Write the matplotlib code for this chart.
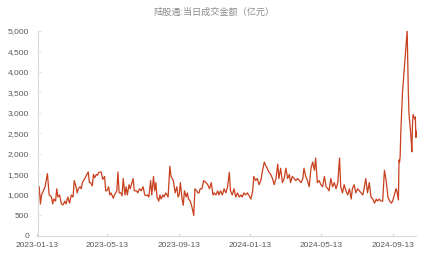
import pandas as pd
import matplotlib.pyplot as plt
import matplotlib.ticker as mticker

## Data (亿元)
dates = [
    '2023-01-13', '2023-01-16', '2023-01-18', '2023-01-20', '2023-01-26', '2023-01-30',
    '2023-02-02', '2023-02-06', '2023-02-08', '2023-02-10', '2023-02-13', '2023-02-15',
    '2023-02-17', '2023-02-20', '2023-02-23', '2023-02-26',
    '2023-03-01', '2023-03-03', '2023-03-06', '2023-03-09', '2023-03-12', '2023-03-15',
    '2023-03-17', '2023-03-20', '2023-03-22', '2023-03-24', '2023-03-27', '2023-03-29', '2023-03-31',
    '2023-04-04', '2023-04-10', '2023-04-12', '2023-04-14', '2023-04-17', '2023-04-19',
    '2023-04-21', '2023-04-24', '2023-04-26', '2023-04-28',
    '2023-05-02', '2023-05-05', '2023-05-08', '2023-05-10', '2023-05-12', '2023-05-15',
    '2023-05-17', '2023-05-19', '2023-05-23', '2023-05-25', '2023-05-29', '2023-05-31',
    '2023-06-02', '2023-06-05', '2023-06-07', '2023-06-09', '2023-06-12', '2023-06-14',
    '2023-06-16', '2023-06-19', '2023-06-21', '2023-06-23', '2023-06-26', '2023-06-28',
    '2023-07-02', '2023-07-04', '2023-07-07', '2023-07-10', '2023-07-13', '2023-07-16',
    '2023-07-19', '2023-07-21', '2023-07-23', '2023-07-26', '2023-07-28', '2023-07-31',
    '2023-08-02', '2023-08-04', '2023-08-06', '2023-08-09', '2023-08-11', '2023-08-13',
    '2023-08-16', '2023-08-18', '2023-08-21', '2023-08-25', '2023-08-28', '2023-08-30',
    '2023-09-03', '2023-09-06', '2023-09-09', '2023-09-11', '2023-09-13', '2023-09-15',
    '2023-09-18', '2023-09-20', '2023-09-22', '2023-09-25', '2023-09-27', '2023-09-29',
    '2023-10-02', '2023-10-05', '2023-10-08', '2023-10-10', '2023-10-13', '2023-10-15',
    '2023-10-17', '2023-10-19', '2023-10-22', '2023-10-25', '2023-10-29',
    '2023-11-01', '2023-11-04', '2023-11-07', '2023-11-10', '2023-11-12', '2023-11-15',
    '2023-11-18', '2023-11-20', '2023-11-23', '2023-11-26', '2023-11-29',
    '2023-12-02', '2023-12-05', '2023-12-08', '2023-12-10', '2023-12-13', '2023-12-16',
    '2023-12-19', '2023-12-22', '2023-12-25', '2023-12-28', '2023-12-30',
    '2024-01-02', '2024-01-05', '2024-01-08', '2024-01-11', '2024-01-14', '2024-01-17',
    '2024-01-19', '2024-01-22', '2024-01-25', '2024-01-28', '2024-01-31',
    '2024-02-03', '2024-02-06', '2024-02-09', '2024-02-11', '2024-02-14', '2024-02-17',
    '2024-02-20', '2024-02-23', '2024-02-26', '2024-02-29',
    '2024-03-02', '2024-03-05', '2024-03-08', '2024-03-11', '2024-03-14', '2024-03-17',
    '2024-03-20', '2024-03-22', '2024-03-25', '2024-03-28', '2024-03-31',
    '2024-04-03', '2024-04-06', '2024-04-09', '2024-04-12', '2024-04-14', '2024-04-17',
    '2024-04-20', '2024-04-23', '2024-04-26', '2024-04-29',
    '2024-05-02', '2024-05-04', '2024-05-07', '2024-05-10', '2024-05-13', '2024-05-16',
    '2024-05-19', '2024-05-22', '2024-05-25', '2024-05-27', '2024-05-30',
    '2024-06-02', '2024-06-05', '2024-06-08', '2024-06-11', '2024-06-14', '2024-06-16',
    '2024-06-19', '2024-06-22', '2024-06-25', '2024-06-28',
    '2024-07-01', '2024-07-04', '2024-07-06', '2024-07-09', '2024-07-12', '2024-07-15',
    '2024-07-18', '2024-07-21', '2024-07-24', '2024-07-26', '2024-07-29',
    '2024-08-01', '2024-08-04', '2024-08-07', '2024-08-10', '2024-08-13', '2024-08-16',
    '2024-08-18', '2024-08-21', '2024-08-24', '2024-08-27', '2024-08-30',
    '2024-09-02', '2024-09-05', '2024-09-08', '2024-09-11', '2024-09-13', '2024-09-16',
    '2024-09-19', '2024-09-20', '2024-09-23', '2024-09-24', '2024-09-25', '2024-09-26',
    '2024-09-27', '2024-09-30',
    '2024-10-08', '2024-10-09', '2024-10-10', '2024-10-11', '2024-10-14', '2024-10-15',
    '2024-10-16', '2024-10-17', '2024-10-18', '2024-10-21', '2024-10-22', '2024-10-23',
    '2024-10-24',
]
turnover = [
    1000, 1200, 780, 1000, 1200, 1520,
    1000, 950, 780, 900, 850, 1150,
    950, 1000, 780, 760,
    850, 780, 950, 800, 1000, 950,
    1350, 1200, 1050, 1150, 1200, 1150, 1300,
    1400, 1560, 1300, 1300, 1220, 1500,
    1420, 1500, 1480, 1550,
    1560, 1380, 1450, 1100, 1100, 1200,
    1000, 1050, 920, 1000, 1100, 1560,
    1050, 1050, 980, 1400, 1000, 1200,
    1000, 1250, 1150, 1250, 1400, 1100,
    1100, 1050, 1150, 1100, 1200, 1000,
    980, 1000, 950, 1350, 1000, 1450,
    1100, 1300, 950, 850, 1000, 900,
    1000, 950, 1050, 950, 1700, 1450,
    1350, 1050, 1200, 950, 1000, 1300,
    900, 750, 1100, 950, 1050, 900,
    850, 700, 500, 1150, 1100, 1050,
    1050, 1150, 1150, 1350, 1300,
    1250, 1150, 1300, 1000, 1050, 1000,
    1100, 1000, 1100, 1000, 1150,
    1050, 1200, 1550, 1100, 1000, 1150,
    950, 1050, 950, 1000, 950,
    1050, 1000, 1050, 980, 900, 1100,
    1450, 1350, 1400, 1250, 1350,
    1600, 1800, 1700, 1650, 1550, 1500,
    1400, 1250, 1400, 1750,
    1400, 1650, 1300, 1400, 1650, 1400,
    1500, 1300, 1450, 1400, 1350,
    1400, 1350, 1300, 1400, 1650, 1450,
    1350, 1200, 1650, 1800,
    1600, 1900, 1300, 1350, 1250, 1200,
    1450, 1200, 1150, 1100, 1400,
    1200, 1300, 1150, 1300, 1900, 1200,
    1050, 1250, 1100, 1000,
    1150, 900, 1150, 1250, 1050, 1150,
    1100, 1050, 1000, 1150, 1400,
    1050, 1300, 950, 900, 800, 900,
    850, 900, 850, 850, 1600,
    1350, 950, 850, 800, 850, 1000,
    1150, 1120, 880, 1850, 1800, 1950,
    2500, 3500,
    5000, 4200, 3500, 3000, 2500, 2300,
    2050, 2650, 2960, 2850, 2900, 2400,
    2550,
]
tick_dates = ['2023-01-13', '2023-05-13', '2023-09-13', '2024-01-13', '2024-05-13', '2024-09-13']

x = pd.to_datetime(dates)
ticks = pd.to_datetime(tick_dates)

fig = plt.figure(figsize=(4.28, 2.54), dpi=100)
ax = fig.add_axes([37.5 / 428, 18 / 254, 379 / 428, 205.3 / 254])
ax.plot(x, turnover, color='#C8401E', lw=0.9)

ax.set_xlim(x[0], x[-1])
ax.set_ylim(0, 5000)
ax.set_xticks(ticks)
ax.set_xticklabels(tick_dates)
ax.set_yticks(range(0, 5001, 500))
ax.yaxis.set_major_formatter(mticker.FuncFormatter(lambda v, p: f'{int(v):,}'))

for s in ['top', 'right']:
    ax.spines[s].set_visible(False)
for s in ['left', 'bottom']:
    ax.spines[s].set_color('#d9d9d9')
    ax.spines[s].set_linewidth(0.8)
ax.tick_params(axis='x', direction='in', length=2.5, color='#d9d9d9',
               labelsize=6, labelcolor='#595959', pad=4)
ax.tick_params(axis='y', direction='in', length=2, color='#e6e6e6',
               labelsize=6, labelcolor='#595959', pad=6)
for lab in ax.get_xticklabels() + ax.get_yticklabels():
    lab.set_family('Liberation Sans')

fig.text(0.5, 1 - 12 / 254, '陆股通:当日成交金额（亿元）', ha='center', va='center',
         fontsize=6.6, color='#8c8c8c', family=['Noto Sans CJK SC', 'DejaVu Sans'])

fig.savefig('out.png', dpi=100)
